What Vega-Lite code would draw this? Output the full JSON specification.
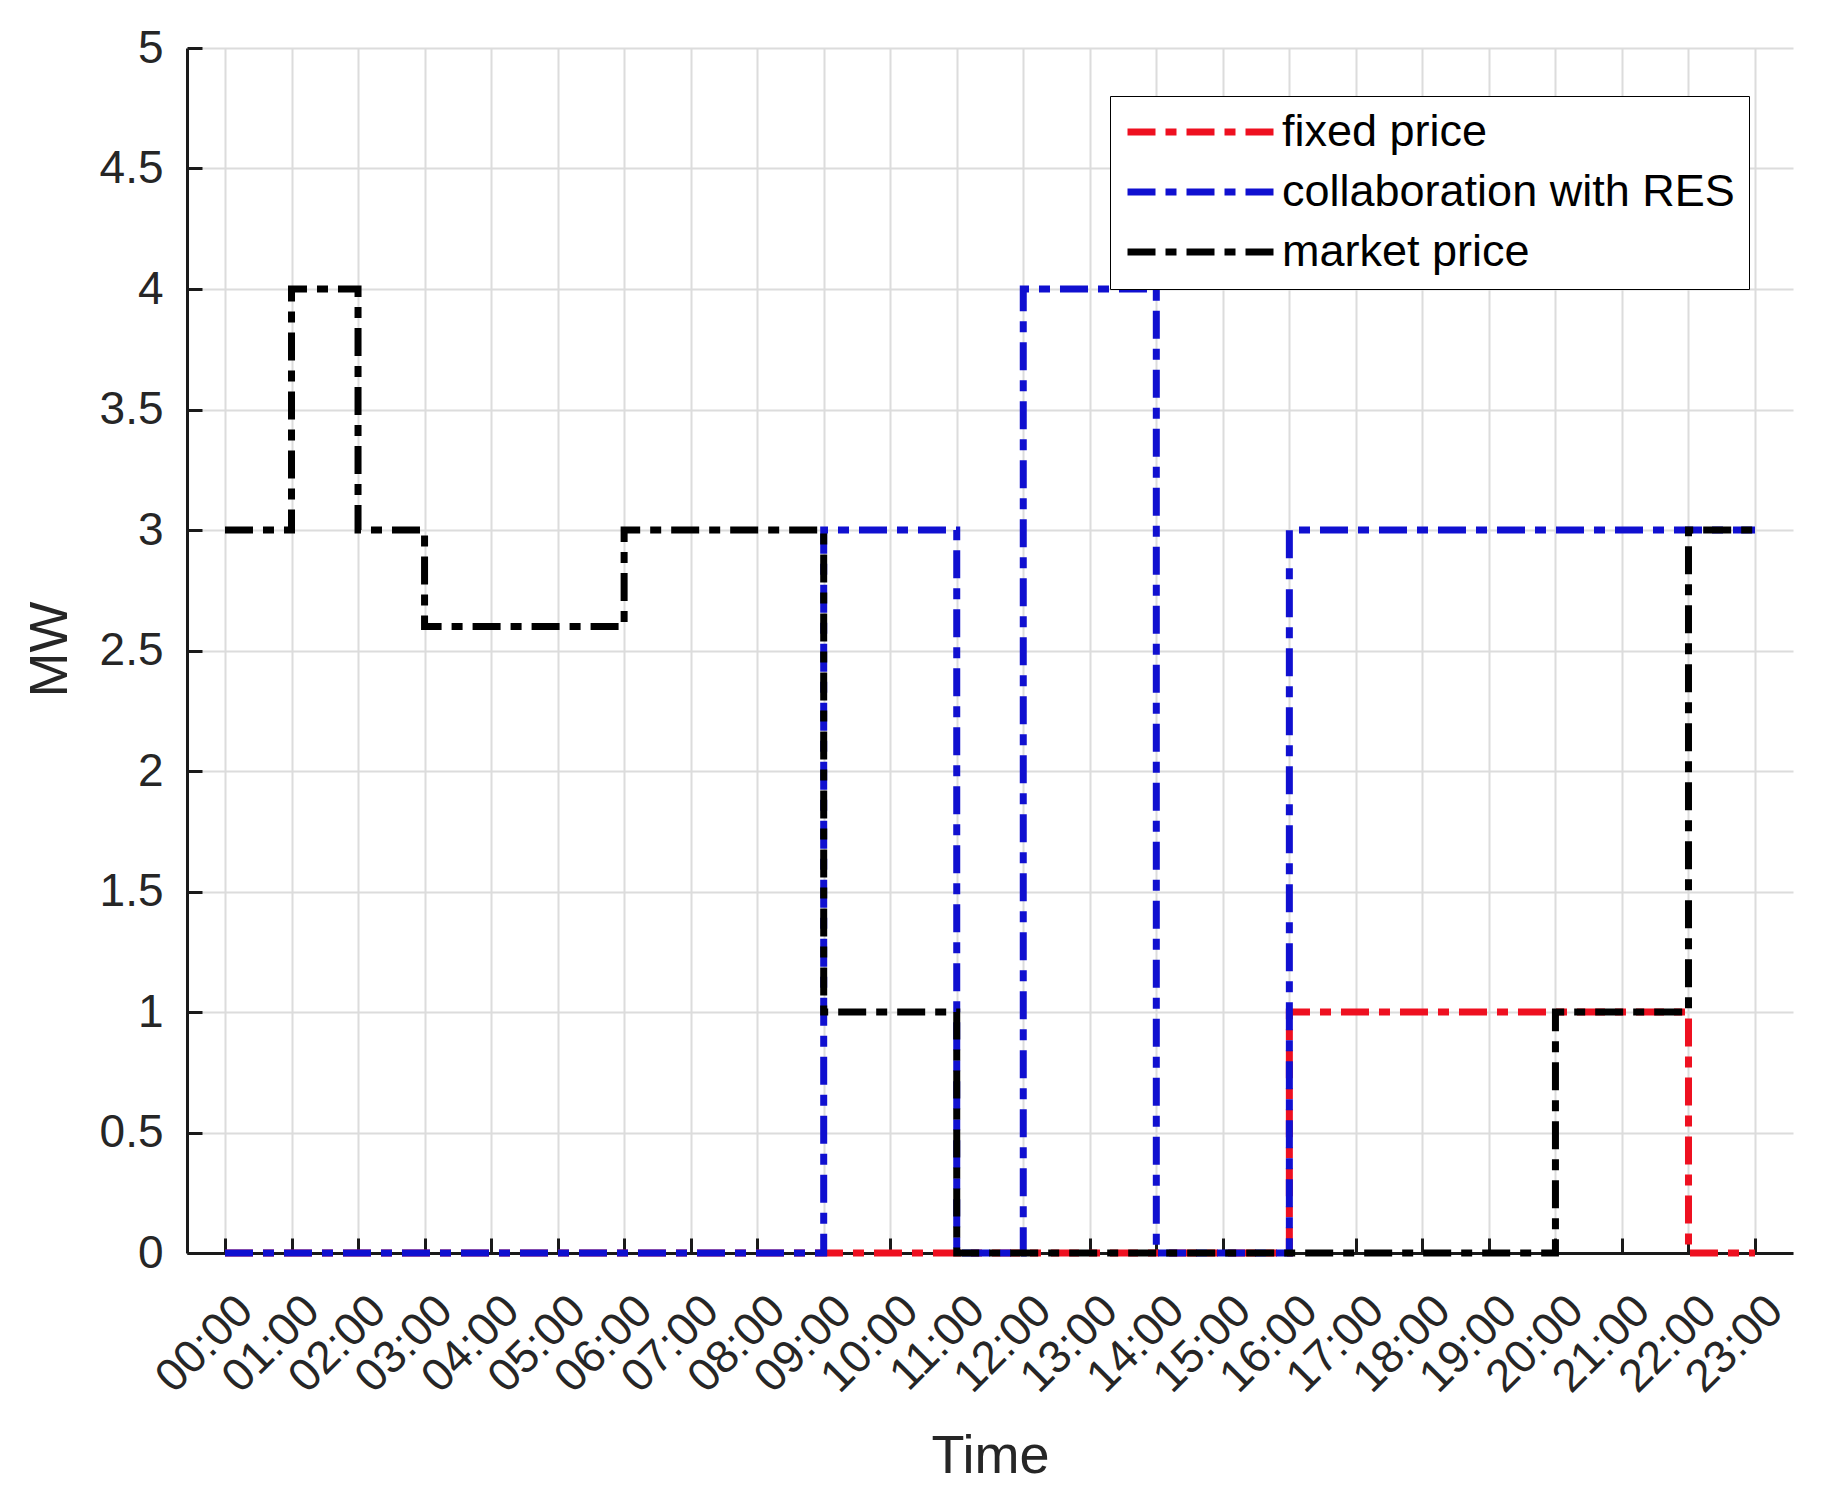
{
  "$schema": "https://vega.github.io/schema/vega-lite/v6.json",
  "autosize": {"type": "none"},
  "width": 1606,
  "height": 1205,
  "padding": {"left": 187, "top": 48, "right": 34, "bottom": 248},
  "background": "white",
  "config": {"view": {"stroke": null}},
  "data": {"values": [
    {"time": "00:00", "series": "fixed price", "mw": 0},
    {"time": "01:00", "series": "fixed price", "mw": 0},
    {"time": "02:00", "series": "fixed price", "mw": 0},
    {"time": "03:00", "series": "fixed price", "mw": 0},
    {"time": "04:00", "series": "fixed price", "mw": 0},
    {"time": "05:00", "series": "fixed price", "mw": 0},
    {"time": "06:00", "series": "fixed price", "mw": 0},
    {"time": "07:00", "series": "fixed price", "mw": 0},
    {"time": "08:00", "series": "fixed price", "mw": 0},
    {"time": "09:00", "series": "fixed price", "mw": 0},
    {"time": "10:00", "series": "fixed price", "mw": 0},
    {"time": "11:00", "series": "fixed price", "mw": 0},
    {"time": "12:00", "series": "fixed price", "mw": 0},
    {"time": "13:00", "series": "fixed price", "mw": 0},
    {"time": "14:00", "series": "fixed price", "mw": 0},
    {"time": "15:00", "series": "fixed price", "mw": 0},
    {"time": "16:00", "series": "fixed price", "mw": 1},
    {"time": "17:00", "series": "fixed price", "mw": 1},
    {"time": "18:00", "series": "fixed price", "mw": 1},
    {"time": "19:00", "series": "fixed price", "mw": 1},
    {"time": "20:00", "series": "fixed price", "mw": 1},
    {"time": "21:00", "series": "fixed price", "mw": 1},
    {"time": "22:00", "series": "fixed price", "mw": 0},
    {"time": "23:00", "series": "fixed price", "mw": 0},
    {"time": "00:00", "series": "collaboration with RES", "mw": 0},
    {"time": "01:00", "series": "collaboration with RES", "mw": 0},
    {"time": "02:00", "series": "collaboration with RES", "mw": 0},
    {"time": "03:00", "series": "collaboration with RES", "mw": 0},
    {"time": "04:00", "series": "collaboration with RES", "mw": 0},
    {"time": "05:00", "series": "collaboration with RES", "mw": 0},
    {"time": "06:00", "series": "collaboration with RES", "mw": 0},
    {"time": "07:00", "series": "collaboration with RES", "mw": 0},
    {"time": "08:00", "series": "collaboration with RES", "mw": 0},
    {"time": "09:00", "series": "collaboration with RES", "mw": 3},
    {"time": "10:00", "series": "collaboration with RES", "mw": 3},
    {"time": "11:00", "series": "collaboration with RES", "mw": 0},
    {"time": "12:00", "series": "collaboration with RES", "mw": 4},
    {"time": "13:00", "series": "collaboration with RES", "mw": 4},
    {"time": "14:00", "series": "collaboration with RES", "mw": 0},
    {"time": "15:00", "series": "collaboration with RES", "mw": 0},
    {"time": "16:00", "series": "collaboration with RES", "mw": 3},
    {"time": "17:00", "series": "collaboration with RES", "mw": 3},
    {"time": "18:00", "series": "collaboration with RES", "mw": 3},
    {"time": "19:00", "series": "collaboration with RES", "mw": 3},
    {"time": "20:00", "series": "collaboration with RES", "mw": 3},
    {"time": "21:00", "series": "collaboration with RES", "mw": 3},
    {"time": "22:00", "series": "collaboration with RES", "mw": 3},
    {"time": "23:00", "series": "collaboration with RES", "mw": 3},
    {"time": "00:00", "series": "market price", "mw": 3},
    {"time": "01:00", "series": "market price", "mw": 4},
    {"time": "02:00", "series": "market price", "mw": 3},
    {"time": "03:00", "series": "market price", "mw": 2.6},
    {"time": "04:00", "series": "market price", "mw": 2.6},
    {"time": "05:00", "series": "market price", "mw": 2.6},
    {"time": "06:00", "series": "market price", "mw": 3},
    {"time": "07:00", "series": "market price", "mw": 3},
    {"time": "08:00", "series": "market price", "mw": 3},
    {"time": "09:00", "series": "market price", "mw": 1},
    {"time": "10:00", "series": "market price", "mw": 1},
    {"time": "11:00", "series": "market price", "mw": 0},
    {"time": "12:00", "series": "market price", "mw": 0},
    {"time": "13:00", "series": "market price", "mw": 0},
    {"time": "14:00", "series": "market price", "mw": 0},
    {"time": "15:00", "series": "market price", "mw": 0},
    {"time": "16:00", "series": "market price", "mw": 0},
    {"time": "17:00", "series": "market price", "mw": 0},
    {"time": "18:00", "series": "market price", "mw": 0},
    {"time": "19:00", "series": "market price", "mw": 0},
    {"time": "20:00", "series": "market price", "mw": 1},
    {"time": "21:00", "series": "market price", "mw": 1},
    {"time": "22:00", "series": "market price", "mw": 3},
    {"time": "23:00", "series": "market price", "mw": 3}
  ]},
  "encoding": {
    "x": {
      "field": "time", "type": "ordinal",
      "scale": {"type": "point", "padding": 0.571},
      "axis": {
        "title": "Time",
        "labelAngle": -45, "labelAlign": "right", "labelBaseline": "middle",
        "labelFont": "Liberation Sans", "labelFontSize": 46, "labelColor": "#262626",
        "labelPadding": 65, "labelOffset": 20,
        "labelOverlap": false, "labelBound": false,
        "tickSize": -15, "tickWidth": 3, "tickColor": "#1a1a1a",
        "domainColor": "#1a1a1a", "domainWidth": 3,
        "grid": true, "gridColor": "#dcdcdc", "gridWidth": 2,
        "titleFont": "Liberation Sans", "titleFontSize": 54, "titleFontWeight": "normal", "titleColor": "#262626",
        "titleY": 219, "titleBaseline": "alphabetic"
      }
    },
    "y": {
      "field": "mw", "type": "quantitative",
      "scale": {"domain": [0, 5], "nice": false, "zero": false},
      "axis": {
        "title": "MW",
        "values": [0, 0.5, 1, 1.5, 2, 2.5, 3, 3.5, 4, 4.5, 5],
        "format": "~g",
        "labelFont": "Liberation Sans", "labelFontSize": 46, "labelColor": "#262626",
        "labelPadding": 39,
        "tickSize": -15, "tickWidth": 3, "tickColor": "#1a1a1a",
        "domainColor": "#1a1a1a", "domainWidth": 3,
        "grid": true, "gridColor": "#dcdcdc", "gridWidth": 2,
        "titleFont": "Liberation Sans", "titleFontSize": 54, "titleFontWeight": "normal", "titleColor": "#262626",
        "titleX": -137, "titleY": 601, "titleBaseline": "middle", "titleAngle": -90
      }
    },
    "color": {
      "field": "series", "type": "nominal",
      "scale": {"domain": ["fixed price", "collaboration with RES", "market price"], "range": ["#ee1020", "#1010d0", "#000000"]},
      "legend": {
        "title": null, "orient": "none", "legendX": 923, "legendY": 48, "direction": "vertical",
        "padding": 14, "strokeColor": "#000000", "fillColor": "white",
        "symbolType": "stroke", "symbolSize": 21904, "symbolStrokeWidth": 7, "symbolDash": [28, 10, 11, 10],
        "labelFont": "Liberation Sans", "labelFontSize": 45, "labelColor": "#000000", "labelOffset": 3, "labelLimit": 800,
        "clipHeight": 44, "rowPadding": 15
      }
    }
  },
  "layer": [
    {"transform": [{"filter": "datum.series === 'fixed price'"}], "mark": {"type": "line", "interpolate": "step-after", "strokeWidth": 7, "strokeDash": [28, 10, 11, 10]}},
    {"transform": [{"filter": "datum.series === 'collaboration with RES'"}], "mark": {"type": "line", "interpolate": "step-after", "strokeWidth": 7, "strokeDash": [28, 10, 11, 10]}},
    {"transform": [{"filter": "datum.series === 'market price'"}], "mark": {"type": "line", "interpolate": "step-after", "strokeWidth": 7, "strokeDash": [28, 10, 11, 10]}}
  ]
}
